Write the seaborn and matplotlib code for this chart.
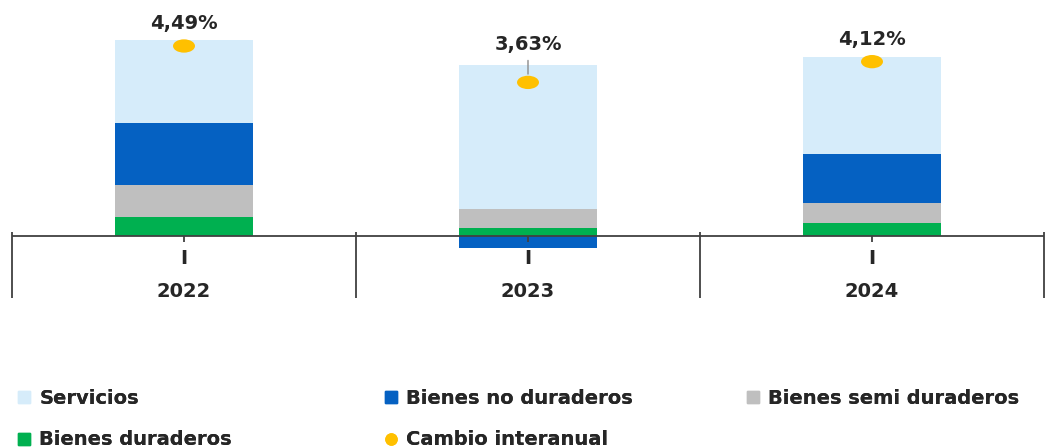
import numpy as np
import seaborn as sns
import matplotlib.pyplot as plt
from matplotlib.lines import Line2D
from matplotlib.path import Path
from matplotlib.transforms import Affine2D


years = ['2022', '2023', '2024']
quarter = ['I', 'I', 'I']
servicios = [1.94, 3.38, 2.29]
no_duraderos = [1.47, -0.29, 1.18]
semi_duraderos = [0.76, 0.45, 0.47]
duraderos = [0.45, 0.20, 0.30]
cambio = [4.49, 3.63, 4.12]
cambio_labels = ['4,49%', '3,63%', '4,12%']

# label offsets above the dot (points)
label_offsets = [16, 27, 16]

c_serv = '#D6ECFA'
c_nodur = '#0561C2'
c_semi = '#BFBFBF'
c_dur = '#00B050'
c_dot = '#FFC000'
c_text = '#262626'
c_axis = '#404040'

sns.set_theme(style='white')
plt.rcParams['font.family'] = ['DejaVu Sans']

fig = plt.figure(figsize=(10.53, 4.48), dpi=100)
ax = fig.add_axes([12 / 1053, 148 / 448, 1032 / 1053, 290 / 448])

# stacked bars, negatives stacked below zero
series = [
    (duraderos, c_dur),
    (semi_duraderos, c_semi),
    (no_duraderos, c_nodur),
    (servicios, c_serv),
]
pos_base = np.zeros(3)
neg_base = np.zeros(3)
for vals, col in series:
    vals = np.array(vals)
    bottom = np.where(vals >= 0, pos_base, neg_base)
    sns.barplot(x=years, y=vals, bottom=bottom, color=col, width=0.4,
                saturation=1, errorbar=None, linewidth=0, ax=ax)
    pos_base = pos_base + np.where(vals >= 0, vals, 0)
    neg_base = neg_base + np.where(vals < 0, vals, 0)

# year-on-year change dots (slightly wide ellipse like the source)
ellipse = Path.unit_circle().transformed(Affine2D().scale(1.65, 1))
sns.scatterplot(x=np.arange(3), y=cambio, marker=ellipse, s=250, color=c_dot,
                edgecolor='none', zorder=5, legend=False, ax=ax)

for i, (v, lab) in enumerate(zip(cambio, cambio_labels)):
    off = label_offsets[i]
    arrow = dict(arrowstyle='-', color='#8C8C8C', lw=1,
                 shrinkA=2, shrinkB=6) if off > 20 else None
    ax.annotate(lab, (i, v), xytext=(0, off), textcoords='offset points',
                ha='center', va='center', fontsize=14, fontweight='bold',
                color=c_text, arrowprops=arrow)

ax.set_xlim(-0.5, 2.5)
ax.set_ylim(-1.51, 5.34)
for s in ax.spines.values():
    s.set_visible(False)
ax.set_yticks([])
ax.set_xticks([])
ax.set_xlabel('')
ax.set_ylabel('')

ax.axhline(0, color=c_axis, lw=1.3, zorder=4)
ax.vlines([-0.5, 0.5, 1.5, 2.5], -1.47, 0.1, color=c_axis, lw=1.3,
          clip_on=False)
ax.vlines([0, 1, 2], -0.13, 0, color=c_axis, lw=1.3, zorder=4)

for i, (q, y) in enumerate(zip(quarter, years)):
    ax.text(i, -0.54, q, ha='center', va='center', fontsize=14,
            fontweight='bold', color=c_text)
    ax.text(i, -1.30, y, ha='center', va='center', fontsize=14,
            fontweight='bold', color=c_text)

# legend in three columns, row-major like the source
def sq(col):
    return Line2D([], [], marker='s', ls='', color=col, markersize=9)


def dot(col):
    return Line2D([], [], marker='o', ls='', color=col, markersize=8)


cols = [
    ([sq(c_serv), sq(c_dur)], ['Servicios', 'Bienes duraderos'], 16),
    ([sq(c_nodur), dot(c_dot)], ['Bienes no duraderos', 'Cambio interanual'], 383),
    ([sq(c_semi)], ['Bienes semi duraderos'], 745),
]
for handles, labels, xpx in cols:
    leg = fig.legend(handles, labels, loc='upper left',
                     bbox_to_anchor=(xpx / 1053, 59 / 448), frameon=False,
                     handlelength=0.8, handletextpad=0.4,
                     borderpad=0, borderaxespad=0, labelspacing=1.15,
                     labelcolor=c_text, prop={'weight': 'bold', 'size': 14})
    fig.add_artist(leg)

fig.savefig('out.png', dpi=100)
